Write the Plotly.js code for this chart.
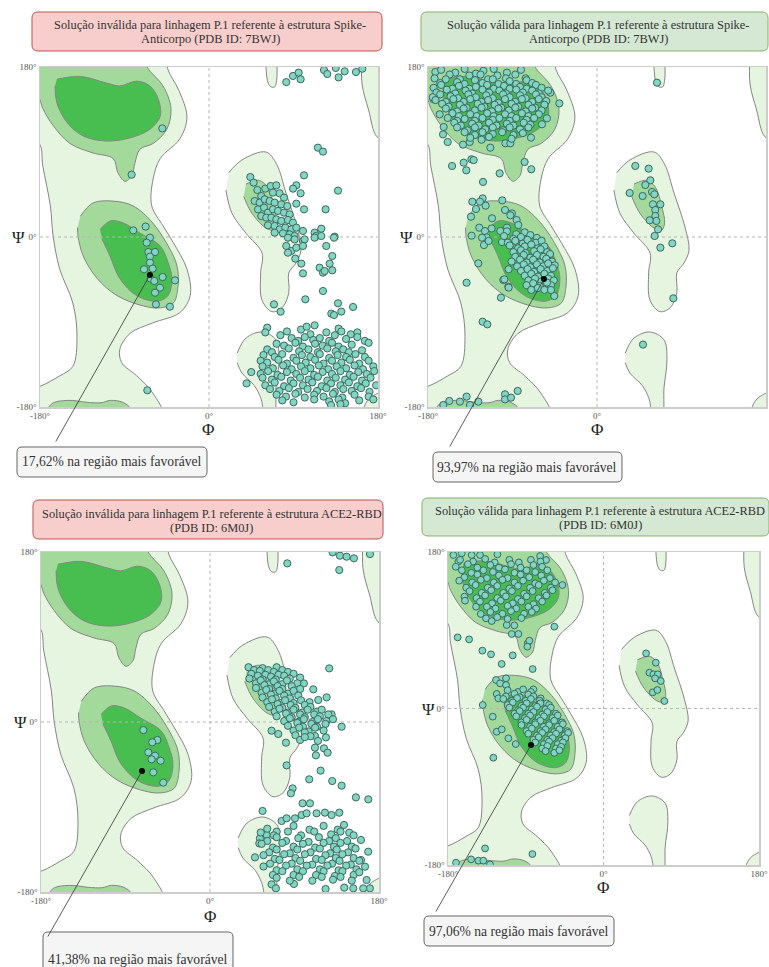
<!DOCTYPE html>
<html><head><meta charset="utf-8">
<script src="https://cdn.plot.ly/plotly-3.0.1.min.js"></script>
<style>html,body{margin:0;padding:0;background:#fff}#chart{width:769px;height:967px}</style>
</head><body><div id="chart"></div>
<script>
// ---------- Ramachandran region outlines [phi, psi] ----------
const REG_LIGHT_LEFT = [[-200,200],[-47,200],[-44,178],[-32,155],[-23.5,127],[-31,104],[-52,83],[-59.6,61],[-61,33],[-49,12],[-38,-6],[-23.5,-34],[-20,-62],[-31,-80],[-60,-91],[-84,-102],[-95,-119],[-93,-133],[-77,-147],[-60,-165],[-50,-190],[-200,-190],[-200,-162],[-180,-158],[-159,-147],[-145,-137],[-140.6,-105],[-145,-70],[-159,-34],[-166,1],[-169,33],[-177,75],[-181,99],[-200,104]];
const REG_MED_BETA = [[-200,200],[-72,200],[-66,180],[-49,160],[-40.5,136],[-45,114],[-59.6,99],[-73.5,93],[-79,78],[-82,65],[-89.5,59],[-97,68],[-102,83],[-123.5,89],[-148,99],[-166,118],[-177,136],[-182,148],[-200,152]];
const REG_MED_BETA_WRAP = [[-176,-195],[-168,-177],[-150,-173],[-130,-175],[-115,-175.5],[-105,-173],[-92,-175],[-83,-182],[-80,-195]];
const REG_DARK_BETA = [[-162,167],[-137,170],[-109,163],[-95,160],[-77,165],[-63,160],[-54,146],[-52,128],[-63,114],[-84,105],[-109,101.6],[-134,107],[-151,121],[-162,142],[-164,160]];
const REG_MED_ALPHA = [[-137,22],[-123.5,36],[-102,38],[-81,33],[-60,15],[-41.5,-13],[-34,-31],[-33,-52],[-38,-70],[-52,-75],[-70,-73],[-98,-62],[-119,-44],[-134,-20],[-139.5,1],[-140,10]];
const REG_DARK_ALPHA = [[-116,8],[-105,17],[-91.6,15],[-73.5,4],[-52,-9.5],[-43.6,-27],[-39.5,-44],[-43.6,-62],[-55.5,-68],[-77,-62],[-95,-44],[-105.5,-20],[-114,-2]];
const REG_LIGHT_LALPHA = [[21,68],[35,81.5],[60.7,90],[72,77],[82,46.6],[93.7,10.6],[98,-14],[92.7,-27.5],[85,-38],[85,-59],[77.8,-75],[67,-79],[56.5,-67],[55,-38],[56.5,-17],[39.4,4],[24.5,25],[18,49.7]];
const REG_MED_LALPHA = [[39.4,56],[53,60],[62,53],[69,32],[72,15],[69,7.4],[60.7,9.5],[45.8,25],[37,43]];
const REG_LIGHT_TOP = [[60.5,195],[61,175],[63,163],[66,159],[70,159],[72,166],[72.5,178],[72,195]];
const REG_LIGHT_BOTTOM = [[30,-123],[39.4,-107],[56.5,-100.6],[71.4,-109],[74.5,-130],[71.4,-159],[69,-190],[60.7,-190],[55,-170],[48,-157],[35,-144],[30,-133]];
const REG_LIGHT_RIGHT = [[163,195],[163,162],[170,134.5],[179,106],[195,100],[195,195]];
const REG_LIGHT_CORNER = [[162,-195],[167,-176],[175,-168],[195,-162],[195,-195]];

// ---------- panel 1: Spike-Anticorpo, invalid ----------
const p1_points = [
[-49.7,115],[-82.4,66],[-80.7,7],[-67.5,11],[-62.9,-0.7],[-66.4,-6],[-64.6,-15.9],[-57.5,-15.9],[-62.9,-20.8],[-62.9,-27.2],[-69.2,-34.2],[-60,-33.5],[-62.1,-44.1],[-58.3,-46.6],[-49.4,-42.4],[-36.2,-45.9],[-52.2,-53.7],[-57.5,-59],[-56.5,-71.3],[-41.6,-73.8],[-65.7,-162.3],
[82.3,164],[89.4,170.5],[95.5,174],[97.6,167],[122.5,176.8],[126,172.6],[135,179],[138,169],[144.5,175.4],[156.5,174.7],[163.3,178.2],
[116,94.6],[121.4,90.4],[101.2,65.3],[137.4,49.1],[44,63.5],[47.5,57.6],[93,54.7],[89.5,51.2],[97.6,46.3],[93,35.3],[101.2,29.3],[124.2,29.3],
[51.5,49.8],[55.7,43.4],[60,51.2],[65.7,54],[71.7,54.7],[68.1,47],[75.2,46.3],[79.9,41.7],[48.6,38.1],[53.9,36.4],[59.3,39.9],[64.6,38.1],[69.9,36.4],[77,34.6],[83.4,32.8],[52.2,29.3],[58.6,31.1],[62.8,25.8],[68.1,29.3],[73.5,27.6],[79.9,25.8],[85.9,24],[55.7,22.2],[61,20.5],[66.4,20.5],[71.7,18.7],[77,17],[84.1,18],[89.4,15.2],[62.8,12.4],[69.9,11.7],[75.2,8.1],[81.3,9.9],[87.7,8.1],[93,9.9],[69.9,4.6],[78.8,3.9],[85.9,2.8],[91.2,1.1],[100.1,6.4],[112.5,4.6],[119.6,8.8],[114.3,1.1],[133.8,0.4],
[84.1,-0.7],[91.2,-2.5],[100.1,-4.2],[101.9,-2.5],[82.3,-9.5],[87.7,-14.8],[93,-11.3],[100.1,-9.5],[84.1,-16.6],[112.5,-0.7],[119.6,1.1],[124.9,-9.5],[133.1,-0.7],[131.3,-20.1],[91.9,-22.9],[98.3,-28.2],[100.1,-38.5],[117.8,-32.5],[121.4,-37.8],[123.2,-36],[128.5,-28.2],[131.3,-35.3],[121.4,-57.2],[102.6,-66],[69.2,-71.3],[76.3,-79.1],[137.4,-70.2],[153.4,-74.1],[130.3,-81.2],[133.1,-82.6],[140.9,-79],[112.5,-93.5],
[62,-96],[98,-98],[104,-95],[138,-97],
[60,-101],[76,-104],[83,-100],[108,-103],[125,-101],[134,-104],[141,-100],[151,-103],[158,-101],
[88,-107],[95,-110],[102,-106],[111,-109],[118,-107],[128,-110],[146,-108],[158,-106],[166,-110],
[72,-113],[80,-115],[92,-112],[100,-116],[113,-113],[121,-115],[131,-112],[138,-116],[152,-114],[170,-112],
[62,-119],[67,-122],[85,-118],[96,-121],[106,-119],[116,-122],[126,-118],[135,-121],[143,-119],[149,-122],[163,-120],
[58,-125],[70,-127],[78,-124],[90,-128],[99,-125],[108,-127],[118,-124],[128,-128],[137,-125],[146,-127],[156,-124],[166,-127],
[55,-131],[62,-133],[74,-130],[83,-134],[93,-131],[103,-133],[113,-130],[122,-134],[131,-131],[141,-133],[150,-130],[160,-134],[170,-131],
[57,-137],[68,-139],[79,-136],[88,-140],[98,-137],[108,-139],[117,-136],[127,-140],[136,-137],[146,-139],[155,-136],[164,-140],[175,-137],
[45,-143],[55,-145],[63,-142],[73,-146],[83,-143],[93,-145],[102,-142],[112,-146],[121,-143],[131,-145],[140,-142],[150,-146],[159,-143],[168,-145],[176,-142],
[57,-149],[67,-151],[77,-148],[87,-152],[97,-149],[106,-151],[116,-148],[126,-152],[135,-149],[145,-151],[154,-148],[163,-152],[172,-149],
[40,-155],[60,-157],[70,-154],[80,-158],[90,-155],[100,-157],[110,-154],[120,-158],[130,-155],[140,-157],[149,-154],[158,-158],[167,-155],[178,-157],
[65,-161],[75,-163],[85,-160],[95,-164],[105,-161],[115,-163],[125,-160],[134,-164],[143,-161],[152,-163],[162,-160],[171,-164],
[72,-167],[82,-169],[92,-166],[102,-170],[112,-167],[122,-169],[132,-166],[142,-170],[155,-167],[170,-169],
[78,-173],[90,-175],[112,-172],[128,-174],[138,-172],[145,-176],[160,-173],[175,-172],[130,-178],[140,-177]
];
const p1_mark = [-62.9,-40.2];

// ---------- panel 2: Spike-Anticorpo, valid ----------
const p2_points = [
[-172.2,174.7],[-174,145.8],[-167.6,129.9],[-163.3,116.5],[-164,108.7],[-159,100.6],[-154.4,75.2],[-142,78.7],[-139.2,70.6],[-133.8,82.3],[-131.4,81.5],[-142.7,97.8],[-135.6,100.6],[-113.6,94.6],[-103.7,67.4],[-121.4,58.3],[-77.1,79.4],[-70,71.7],[-97.6,99.2],[-92.3,99.2],[-70.3,105.2],[-40.1,141.5],[-49.7,152.8],[-53.3,125.7],[-58.6,119.3],
[-166,177],[-151,174],[-141,178],[-129,173],[-121,176],[-110,178],[-96,174],[-81,177],
[-173,168],[-157,172],[-146,167],[-136,171],[-124,172],[-116,167],[-106,171],[-97,168],[-87,172],[-76,168],
[-167,163],[-161,167],[-149,164],[-141,162],[-130,166],[-122,163],[-111,167],[-105,162],[-93,165],[-86,162],[-75,166],[-69,163],
[-174,158],[-166,161],[-154,157],[-147,160],[-136,157],[-129,159],[-117,161],[-110,157],[-99,160],[-93,157],[-82,159],[-75,157],[-65,161],[-59,158],
[-171,153],[-160,156],[-151,152],[-140,155],[-133,152],[-122,156],[-115,153],[-104,155],[-97,152],[-86,156],[-79,153],[-69,155],[-62,152],[-52,155],
[-175,148],[-167,151],[-156,149],[-148,147],[-137,151],[-129,148],[-118,150],[-111,147],[-100,151],[-93,148],[-82,150],[-76,147],[-65,151],[-59,148],
[-172,145],[-161,143],[-153,146],[-142,143],[-135,146],[-123,143],[-116,145],[-105,142],[-98,146],[-87,143],[-80,146],[-69,143],[-62,146],[-54,144],
[-165,141],[-158,138],[-146,140],[-139,137],[-127,141],[-120,138],[-109,140],[-102,137],[-91,141],[-84,138],[-73,140],[-66,137],[-56,140],
[-161,136],[-149,133],[-142,136],[-130,134],[-123,137],[-112,133],[-105,136],[-94,134],[-87,137],[-76,133],[-69,136],[-59,134],
[-154,131],[-147,128],[-135,130],[-128,128],[-117,131],[-110,128],[-98,130],[-91,128],[-80,131],[-73,128],[-62,130],
[-159,126],[-149,123],[-141,125],[-130,123],[-122,126],[-111,124],[-104,126],[-93,123],[-86,126],[-75,124],[-67,126],
[-152,121],[-145,118],[-133,120],[-126,118],[-115,121],[-107,118],[-96,120],[-89,118],[-78,121],[-71,119],
[-149,116],[-138,113],[-130,116],[-119,114],[-111,116],[-100,113],[-93,116],[-82,114],[-73,116],
[-141,111],[-130,108],[-122,111],[-111,109],[-101,111],[-89,108],[-79,110],
[-135,105],[-123,103],[-115,106],[-91,104],
[-132.8,37.4],[-121.8,40.9],[-124.7,37.4],[-100.9,38.8],[-128.9,29.6],[-118.6,33.2],[-98,28.6],[-90.6,25],[-85.6,18],[-83.8,12.7],[-134.2,21.5],[-125.4,9.9],[-119.3,6.3],[-112.2,9.1],[-117.5,-0.4],[-133.5,1.4],[-120.4,-8.5],[-126.4,-27.9],[-138.9,-48.4],[-102.3,-64.2],[-94.5,-52.6],[-99.8,-45.5],[-121.8,-89.7],[-116.8,-92.5],[-111.8,19.8],[-95.9,9.9],[-103,6.4],[-92.3,23],[-122.5,-0.7],[-115.4,-4.2],[-101.2,-5.3],[-94.1,-34.2],[-98.7,-44.8],[-94.1,-53.6],
[-96,6],[-86,3],[-77,5],
[-99,1],[-89,-2],[-81,0],[-71,2],[-64,-1],
[-95,-6],[-87,-4],[-79,-7],[-74,-3],[-65,-6],[-59,-4],
[-93,-9],[-84,-12],[-77,-10],[-70,-8],[-63,-12],[-56,-10],
[-89,-16],[-81,-14],[-76,-17],[-67,-15],[-60,-13],[-53,-16],
[-87,-21],[-78,-19],[-71,-22],[-64,-19],[-57,-21],[-50,-18],
[-91,-26],[-82,-24],[-75,-27],[-68,-24],[-61,-27],[-54,-23],[-48,-26],
[-85,-31],[-78,-29],[-71,-32],[-64,-29],[-57,-31],[-52,-28],[-45,-30],
[-81,-36],[-74,-34],[-67,-37],[-60,-34],[-53,-36],[-47,-33],
[-77,-41],[-70,-39],[-63,-42],[-56,-39],[-49,-41],
[-73,-46],[-66,-44],[-59,-47],[-52,-44],[-46,-46],
[-75,-51],[-68,-49],[-61,-52],[-54,-49],[-49,-51],
[-70,-56],[-63,-54],[-56,-56],[-45.5,-62.5],[-49,-56.1],[-53.3,-48.3],
[-163.7,-177.9],[-157.3,-173.6],[-146,-174.3],[-138.9,-169],[-135.3,-177.9],[-126.4,-174.3],[-98,-166.6],[-84.5,-163],[-98,-171.9],[-91.6,-170.1],
[63.9,163.4],[40.8,75.2],[55,72.4],[56.8,60],[51.5,55.1],[34.8,46.6],[48.6,43.4],[58.6,47.7],[61.1,45.2],[59.6,34.6],[67.5,34.6],[62.1,28.6],[62.1,22.3],[63.2,17],[56.1,17.7],[65,8.1],[61.4,1.1],[67.5,-11.3],[80.2,-6.7],[81.3,-64.9],[49,-113.9]
];
const p2_mark = [-56.5,-44.5];

// ---------- panel 3: ACE2-RBD, invalid ----------
const p3_points = [
[-71,-8.5],[-56.1,-19.1],[-61.5,-21.5],[-65.7,-32.1],[-58.6,-35.7],[-52.6,-41],[-62.2,-39.5],[-60.4,-53.3],[-49.8,-64.2],
[130.6,179.6],[138.4,176.1],[145.5,175],[153.3,173.3],[170.4,177.8],[137.7,160.9],[82.3,168],
[127,56.8],[100,40.9],[110,34.6],[115.3,23.3],[124.2,26.1],[129.5,8.1],[140.2,-5],[123.5,-16.3],[111.8,-27.2],[112.8,-35.3],[121.4,-27.9],[125.3,-32.5],[117.8,-51.5],[105.7,-60.7],[130.2,-62.5],[140.2,-67.4],[81.6,-45.9],[88,-70.3],[86.2,-75.5],[155.4,-79.8],[168.6,-81.9],[98.6,-86.1],[106.5,-86.1],[65.6,-9.2],[72.7,-12.7],[80.9,-21.9],[111.8,-14.8],
[41,58],[47,55],[56,57],[62,55],[71,58],[77,55],
[44,51],[53,54],[59,50],[68,53],[73,50],[83,53],[89,51],
[42,46],[51,49],[56,45],[65,48],[70,45],[79,49],[85,46],[96,47],
[49,41],[54,44],[63,40],[68,43],[77,40],[82,44],[93,41],
[49,36],[58,39],[63,35],[72,38],[77,35],[87,38],[96,35],
[55,31],[60,34],[69,30],[74,33],[83,30],[89,33],
[56,26],[65,29],[70,25],[79,28],[85,25],[94,28],
[61,21],[66,24],[75,20],[80,23],[89,20],[97,23],[106,21],
[63,16],[72,19],[77,15],[86,18],[91,15],[101,18],[107,16],
[69,11],[74,14],[83,10],[89,13],[98,10],[104,13],[114,11],[119,13],
[71,6],[81,9],[87,5],[96,8],[101,5],[111,8],[117,6],[126,8],
[79,1],[85,4],[94,0],[100,3],[109,0],[115,3],[124,1],[131,3],
[83,-4],[93,-1],[99,-5],[108,-2],[114,-5],[123,-2],
[89,-9],[95,-6],[105,-10],[112,-6],[121,-9],
[91,-14],[101,-11],[107,-15],[96,-19],[101,-16],[115,-20],
[56,-94.2],[76.3,-104.8],[81.6,-102],[90.5,-102],[97.6,-98.5],[102.9,-96.7],[113.5,-96.7],[122.4,-96],[129.5,-98.5],[137.7,-96],[142.7,-109],[148.3,-117.2],[160.8,-124.9],[168.5,-137.3],[160.8,-146.1],[165.1,-153.2],[166.8,-167.3],[170.3,-176.1],[163.2,-176.1],[152.6,-176.1],[143,-175.4],[123.1,-176.8],[89.4,-171.5],[65.6,-171.9],[70.2,-176.1],[47.9,-143.3],[53.2,-123.2],[60.3,-119.6],[52.5,-128.5],[71,-116.1],
[61,-113],[89,-110],[106,-114],[121,-110],[136,-114],
[54,-117],[68,-120],[83,-116],[97,-120],[111,-116],[129,-119],[139,-116],[153,-120],
[61,-126],[71,-122],[81,-126],[94,-123],[105,-127],[116,-122],[127,-126],[134,-123],[146,-126],
[55,-129],[67,-133],[77,-128],[89,-132],[99,-129],[112,-133],[121,-128],[132,-132],[139,-128],[151,-132],
[63,-138],[71,-135],[85,-139],[93,-135],[107,-138],[117,-134],[128,-139],[135,-135],[147,-138],[155,-134],
[57,-141],[69,-145],[79,-140],[91,-144],[101,-140],[113,-145],[123,-141],[134,-144],[141,-140],[153,-144],
[64,-150],[74,-146],[87,-150],[96,-147],[109,-151],[119,-146],[130,-150],[138,-147],[150,-151],[159,-147],
[57,-153],[71,-157],[81,-152],[93,-156],[103,-152],[117,-156],[125,-152],[137,-157],[145,-152],[156,-156],
[67,-162],[77,-158],[89,-162],[99,-158],[113,-162],[121,-158],[133,-163],[141,-158],[153,-162],[159,-159],
[71,-165],[85,-168],[95,-164],[109,-168],[119,-164],[131,-167],[139,-164],[151,-168]
];
const p3_mark = [-72.4,-51.9];

// ---------- panel 4: ACE2-RBD, valid ----------
const p4_points = [
[-173.8,176.5],[-164.1,178.5],[-152.6,176.5],[-142.9,176.5],[-122.8,177.3],[-73.4,175.4],[-66.5,170.8],[-168,168.9],[-168.8,81.8],[-155.6,79.5],[-140.2,66.5],[-130.2,62.3],[-117.9,51.2],[-105.1,61.1],[-82,45.4],[-87.7,74.9],[-85.8,78],[-88.1,71.1],[-56.9,94.1],[-106.2,85.7],[-98.5,85.7],[-161,128.6],[-160.3,124],[-47.6,142],[-147.5,117.1],[-142.1,108.7],[-136,103.7],[-129.4,100.6],[-112,96],[-103.2,95.6],
[-166,171],[-151,169],[-137,172],[-126,168],[-109,171],[-98,168],[-84,171],[-73,169],
[-171,163],[-157,166],[-146,162],[-131,165],[-121,162],[-107,166],[-96,162],[-81,165],[-71,163],
[-164,159],[-153,156],[-139,159],[-128,157],[-114,160],[-103,156],[-89,159],[-79,157],[-65,159],
[-161,151],[-146,154],[-135,150],[-121,153],[-111,150],[-96,154],[-86,151],[-72,153],[-62,150],
[-167,147],[-152,145],[-142,148],[-127,145],[-117,148],[-103,145],[-93,147],[-79,144],[-69,147],[-56,145],
[-159,139],[-148,142],[-134,139],[-123,141],[-109,138],[-99,141],[-85,139],[-75,142],[-61,139],
[-155,135],[-141,133],[-130,136],[-116,133],[-106,135],[-92,132],[-82,135],[-68,133],[-59,136],
[-147,127],[-137,130],[-123,127],[-113,129],[-99,126],[-89,129],[-75,127],[-66,130],
[-143,123],[-129,121],[-119,124],[-105,121],[-95,123],[-81,120],[-71,123],
[-135,117],[-125,115],[-111,118],[-101,115],[-87,117],[-78,115],
[-131,111],[-117,109],[-107,112],[-92,109],[-83,111],
[-123,105],[-111,103],[-95,104],
[-124.4,32.8],[-119.7,28.9],[-112.8,34.7],[-112.8,27],[-139.8,4],[-123.6,16.7],[-121.7,11.7],[-128.2,-9.4],[-123.6,-26.7],[-117.8,-24],[-110.1,-34.3],[-101.6,-40.9],[-127.5,-56.6],[-65.7,5.9],[-81.2,22],[-72.7,11.7],
[-111,21],[-99,19],[-93,22],[-84,19],
[-113,14],[-103,17],[-97,13],[-87,16],[-81,14],
[-116,11],[-106,9],[-100,12],[-90,9],[-84,11],[-74,9],
[-111,4],[-105,7],[-95,3],[-89,6],[-79,3],[-73,6],[-63,4],
[-109,1],[-99,-2],[-93,1],[-83,-1],[-77,2],[-67,-1],[-61,1],
[-103,-6],[-97,-3],[-87,-6],[-81,-4],[-71,-7],[-65,-4],[-55,-6],
[-101,-9],[-91,-11],[-85,-8],[-75,-11],[-69,-9],[-59,-11],[-53,-8],
[-95,-16],[-89,-13],[-79,-16],[-73,-14],[-63,-17],[-57,-14],[-48,-16],
[-95,-19],[-85,-21],[-79,-18],[-69,-21],[-63,-19],[-53,-21],[-47,-18],
[-89,-26],[-83,-23],[-73,-26],[-67,-24],[-57,-27],[-51,-24],[-42,-26],
[-87,-29],[-77,-31],[-71,-28],[-61,-31],[-55,-29],[-45,-31],[-41,-28],
[-81,-36],[-75,-33],[-65,-36],[-59,-34],[-49,-37],[-44,-34],
[-79,-39],[-69,-41],[-63,-38],[-53,-41],[-47,-39],
[-71,-46],[-65,-43],[-55,-46],[-49,-44],
[-67,-49],[-57,-51],[-51,-48],
[-170.7,-177.3],[-153.3,-173.5],[-144.8,-175],[-139.1,-175],[-131.4,-179.3],[-137.1,-160.9],[-82.3,-167.4],
[49.3,63.4],[60.5,52.7],[53.1,41.2],[57.8,39.3],[62.8,39.3],[59.7,34.7],[66.3,31.6],[57,18.6],[62.4,21.3],[70.5,8.6]
];
const p4_mark = [-83.9,-42];

// ---------- texts ----------
const panelTitles = [
  ["Solução inválida para linhagem P.1 referente à estrutura Spike-", "Anticorpo (PDB ID: 7BWJ)"],
  ["Solução válida para linhagem P.1 referente à estrutura Spike-", "Anticorpo (PDB ID: 7BWJ)"],
  ["Solução inválida para linhagem P.1 referente à estrutura ACE2-RBD", "(PDB ID: 6M0J)"],
  ["Solução válida para linhagem P.1 referente à estrutura ACE2-RBD", "(PDB ID: 6M0J)"]
];
const favouredLabels = ["17,62% na região mais favorável", "93,97% na região mais favorável", "41,38% na região mais favorável", "97,06% na região mais favorável"];
const tickVals = [-180, 0, 180];
const tickText = ["-180°", "0°", "180°"];

// ---------- build ----------
const W = 769, H = 967;
const px = v => v / W, py = v => 1 - v / H;
const LIGHT = '#e5f5e0', MED = '#a3d99b', DARK = '#48be50';
const regions = [
  [REG_LIGHT_LEFT, LIGHT], [REG_LIGHT_LALPHA, LIGHT], [REG_LIGHT_TOP, LIGHT], [REG_LIGHT_BOTTOM, LIGHT], [REG_LIGHT_RIGHT, LIGHT], [REG_LIGHT_CORNER, LIGHT],
  [REG_MED_BETA, MED], [REG_MED_BETA_WRAP, MED], [REG_MED_ALPHA, MED], [REG_MED_LALPHA, MED],
  [REG_DARK_BETA, DARK], [REG_DARK_ALPHA, DARK]
];
const panels = [
  {pts: p1_points, mark: p1_mark, box: [40, 67, 378, 407], title: [32, 12, 382, 51], tl: [210, 25, 39], valid: false, fav: [17, 447, 207, 477, 112, 462], psi: [18, 237], phi: [208, 430], lead: [-95, 168]},
  {pts: p2_points, mark: p2_mark, box: [428, 67, 766, 407], title: [421, 12, 768, 51], tl: [598, 25, 39], valid: true, fav: [433, 452, 622, 482, 527, 467], psi: [406, 237], phi: [597, 430], lead: [-95, 169]},
  {pts: p3_points, mark: p3_mark, box: [41, 552, 379, 892], title: [33, 500, 383, 539], tl: [212, 514, 528], valid: false, fav: [43, 932, 233, 990, 138, 959], psi: [20, 722], phi: [210, 916], lead: [-95, 167]},
  {pts: p4_points, mark: p4_mark, box: [448, 552, 759, 865], title: [422, 498, 769, 536], tl: [600, 511, 525], valid: true, fav: [424, 916, 614, 946, 519, 931], psi: [428, 709], phi: [603, 887], lead: [-96, 168]}
];

function rrPath(x0, y0, x1, y1, r) {
  const X = v => px(v).toFixed(5), Y = v => py(v).toFixed(5);
  return `M${X(x0 + r)},${Y(y0)} L${X(x1 - r)},${Y(y0)} Q${X(x1)},${Y(y0)} ${X(x1)},${Y(y0 + r)} L${X(x1)},${Y(y1 - r)} Q${X(x1)},${Y(y1)} ${X(x1 - r)},${Y(y1)} L${X(x0 + r)},${Y(y1)} Q${X(x0)},${Y(y1)} ${X(x0)},${Y(y1 - r)} L${X(x0)},${Y(y0 + r)} Q${X(x0)},${Y(y0)} ${X(x0 + r)},${Y(y0)} Z`;
}

const data = [], shapes = [], annotations = [];
const SERIF = 'Liberation Serif, Times New Roman, serif';
const layout = {width: W, height: H, margin: {l: 0, r: 0, t: 0, b: 0}, paper_bgcolor: '#fff', plot_bgcolor: '#fff', showlegend: false, font: {family: SERIF, color: '#333'}};

panels.forEach((p, i) => {
  const n = i === 0 ? '' : String(i + 1);
  const xa = 'x' + n, ya = 'y' + n;
  const axBase = {range: [-180, 180], tickvals: tickVals, ticktext: tickText, showgrid: false, zeroline: false, showline: true, mirror: true, linecolor: '#cccccc', linewidth: 1.5, ticks: '', tickfont: {family: SERIF, size: 9, color: '#555'}, fixedrange: true, layer: 'above traces'};
  layout['xaxis' + n] = Object.assign({}, axBase, {domain: [px(p.box[0]), px(p.box[2])], anchor: ya});
  layout['yaxis' + n] = Object.assign({}, axBase, {domain: [py(p.box[3]), py(p.box[1])], anchor: xa});
  regions.forEach(([pts, col]) => {
    data.push({type: 'scatter', mode: 'lines', x: pts.map(q => q[0]), y: pts.map(q => q[1]), fill: 'toself', fillcolor: col, line: {color: '#858585', width: 1, shape: 'spline', smoothing: 1}, xaxis: xa, yaxis: ya, hoverinfo: 'skip'});
  });
  data.push({type: 'scatter', mode: 'lines', x: [0, 0], y: [-180, 180], line: {color: '#b5b5b5', width: 1, dash: '3px,3px'}, xaxis: xa, yaxis: ya, hoverinfo: 'skip'});
  data.push({type: 'scatter', mode: 'lines', x: [-180, 180], y: [0, 0], line: {color: '#b5b5b5', width: 1, dash: '3px,3px'}, xaxis: xa, yaxis: ya, hoverinfo: 'skip'});
  data.push({type: 'scatter', mode: 'markers', x: p.pts.map(q => q[0]), y: p.pts.map(q => q[1]), marker: {size: i === 3 ? 6.8 : 7.2, color: '#7fd6c2', line: {color: '#41665e', width: 1}}, xaxis: xa, yaxis: ya, cliponaxis: true, hovertemplate: 'Φ %{x}° Ψ %{y}°<extra></extra>'});
  data.push({type: 'scatter', mode: 'markers', x: [p.mark[0]], y: [p.mark[1]], marker: {size: 6, color: '#000'}, xaxis: xa, yaxis: ya, hoverinfo: 'skip'});
  annotations.push({x: p.mark[0], y: p.mark[1], xref: xa, yref: ya, text: '', showarrow: true, arrowhead: 0, arrowwidth: 0.8, arrowcolor: '#333', ax: p.lead[0], ay: p.lead[1], standoff: 0, startstandoff: 0});
  const t = p.title;
  shapes.push({type: 'path', xref: 'paper', yref: 'paper', path: rrPath(t[0], t[1], t[2], t[3], 6), fillcolor: p.valid ? '#d5e8d4' : '#f8cecc', line: {color: p.valid ? '#82b366' : '#b85450', width: 1}, layer: 'below'});
  panelTitles[i].forEach((line, k) => {
    annotations.push({xref: 'paper', yref: 'paper', x: px(p.tl[0]), y: py(p.tl[1 + k]), text: line, showarrow: false, xanchor: 'center', yanchor: 'middle', font: {family: SERIF, size: 12.4, color: '#333'}});
  });
  const f = p.fav;
  shapes.push({type: 'path', xref: 'paper', yref: 'paper', path: rrPath(f[0], f[1], f[2], f[3], 5), fillcolor: '#f5f5f5', line: {color: '#666666', width: 1}, layer: 'above'});
  annotations.push({xref: 'paper', yref: 'paper', x: px(f[4]), y: py(f[5]), text: favouredLabels[i], showarrow: false, xanchor: 'center', yanchor: 'middle', font: {family: SERIF, size: 13.6, color: '#333'}});
  annotations.push({xref: 'paper', yref: 'paper', x: px(p.psi[0]), y: py(p.psi[1]), text: 'Ψ', showarrow: false, xanchor: 'center', yanchor: 'middle', font: {family: SERIF, size: 17, color: '#222'}});
  annotations.push({xref: 'paper', yref: 'paper', x: px(p.phi[0]), y: py(p.phi[1]), text: 'Φ', showarrow: false, xanchor: 'center', yanchor: 'middle', font: {family: SERIF, size: 17, color: '#222'}});
});
layout.shapes = shapes;
layout.annotations = annotations;
Plotly.newPlot('chart', data, layout, {staticPlot: true, displayModeBar: false});
</script></body></html>
